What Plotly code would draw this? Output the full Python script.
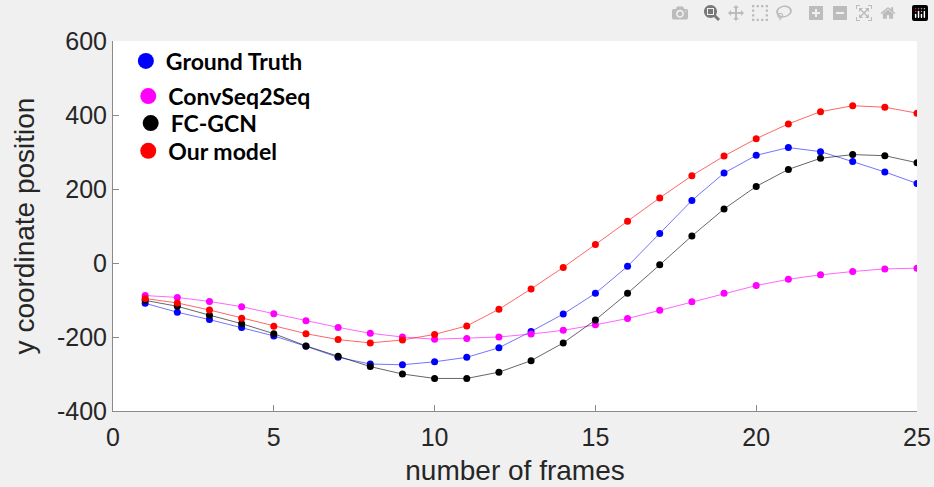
import plotly.graph_objects as go

frames = list(range(1, 26))

ground_truth = [-109, -133, -153, -174, -197, -225, -255, -273, -275, -267, -255, -229,
                -185, -138, -82, -9, 80, 169, 243, 291, 312, 301, 274, 246, 215]
convseq2seq = [-88, -93, -104, -118, -137, -156, -174, -190, -200, -206, -204, -200,
               -192, -182, -167, -150, -128, -105, -82, -61, -44, -32, -23, -16, -14]
fc_gcn = [-101, -117, -141, -164, -191, -224, -252, -280, -300, -312, -312, -295,
          -264, -216, -154, -82, -5, 73, 146, 207, 253, 283, 293, 290, 271]
our_model = [-96, -108, -127, -149, -171, -191, -207, -216, -208, -193, -170, -125,
             -70, -12, 50, 113, 176, 236, 289, 336, 376, 409, 425, 421, 405]

series_names = ["Ground Truth", "ConvSeq2Seq", "FC-GCN", "Our model"]
series_values = [ground_truth, convseq2seq, fc_gcn, our_model]
marker_colors = ["#0000ff", "#ff00ff", "#000000", "#ff0000"]
line_colors = ["rgba(0,0,255,0.55)", "rgba(255,0,255,0.6)", "rgba(0,0,0,0.6)", "rgba(255,0,0,0.6)"]

x_ticks = [0, 5, 10, 15, 20, 25]
y_ticks = [-400, -200, 0, 200, 400, 600]
x_tick_labels = [str(v) for v in x_ticks]
y_tick_labels = [str(v) for v in y_ticks]

fig = go.Figure()

legend_ids = ["legend", "legend2", "legend3", "legend4"]
legend_y = [0.946, 0.851, 0.778, 0.703]
legend_x = [0.016, 0.019, 0.022, 0.019]

for i, (name, vals) in enumerate(zip(series_names, series_values)):
    fig.add_trace(go.Scatter(
        x=frames, y=vals, mode="lines+markers", name=name,
        line=dict(color=line_colors[i], width=1),
        marker=dict(color=marker_colors[i], size=7),
        showlegend=False, legendgroup=name,
    ))
    fig.add_trace(go.Scatter(
        x=[None], y=[None], mode="markers", name=name,
        marker=dict(color=marker_colors[i], size=16),
        showlegend=True, legendgroup=name, legend=legend_ids[i],
    ))

leg_common = dict(
    bgcolor="rgba(0,0,0,0)", borderwidth=0,
    font=dict(family="Lato", size=23, color="#000000", weight="bold"),
    xanchor="left", yanchor="middle", itemwidth=30,
)
layout_legends = {}
for lid, lx, ly in zip(legend_ids, legend_x, legend_y):
    layout_legends[lid] = dict(x=lx, y=ly, **leg_common)

base_font = "Liberation Sans, Arial, sans-serif"
axis_font = dict(family=base_font, size=25, color="#262626")
title_font = dict(family=base_font, size=28, color="#262626")

fig.update_layout(
    width=934, height=487,
    paper_bgcolor="#f0f0f0", plot_bgcolor="#ffffff",
    margin=dict(l=113, r=17, t=41, b=76),
    **layout_legends,
    xaxis=dict(
        range=[0, 25], tickvals=x_ticks, ticktext=x_tick_labels,
        ticks="inside", ticklen=6, ticklabelstandoff=4, automargin=False,
        tickcolor="#8a8a8a", showline=True, linecolor="#8a8a8a", linewidth=1,
        showgrid=False, zeroline=False, tickfont=axis_font,
        title=dict(text="number of frames", font=title_font, standoff=10),
    ),
    yaxis=dict(
        range=[-400, 600], tickvals=y_ticks, ticktext=y_tick_labels,
        ticks="inside", ticklen=6, automargin=False,
        tickcolor="#8a8a8a", showline=True, linecolor="#8a8a8a", linewidth=1,
        showgrid=False, zeroline=False, tickfont=axis_font,
        title=dict(text="y coordinate position", font=title_font, standoff=14),
    ),
)

fig.write_html("out.html", post_script="document.body.style.margin='0';")
